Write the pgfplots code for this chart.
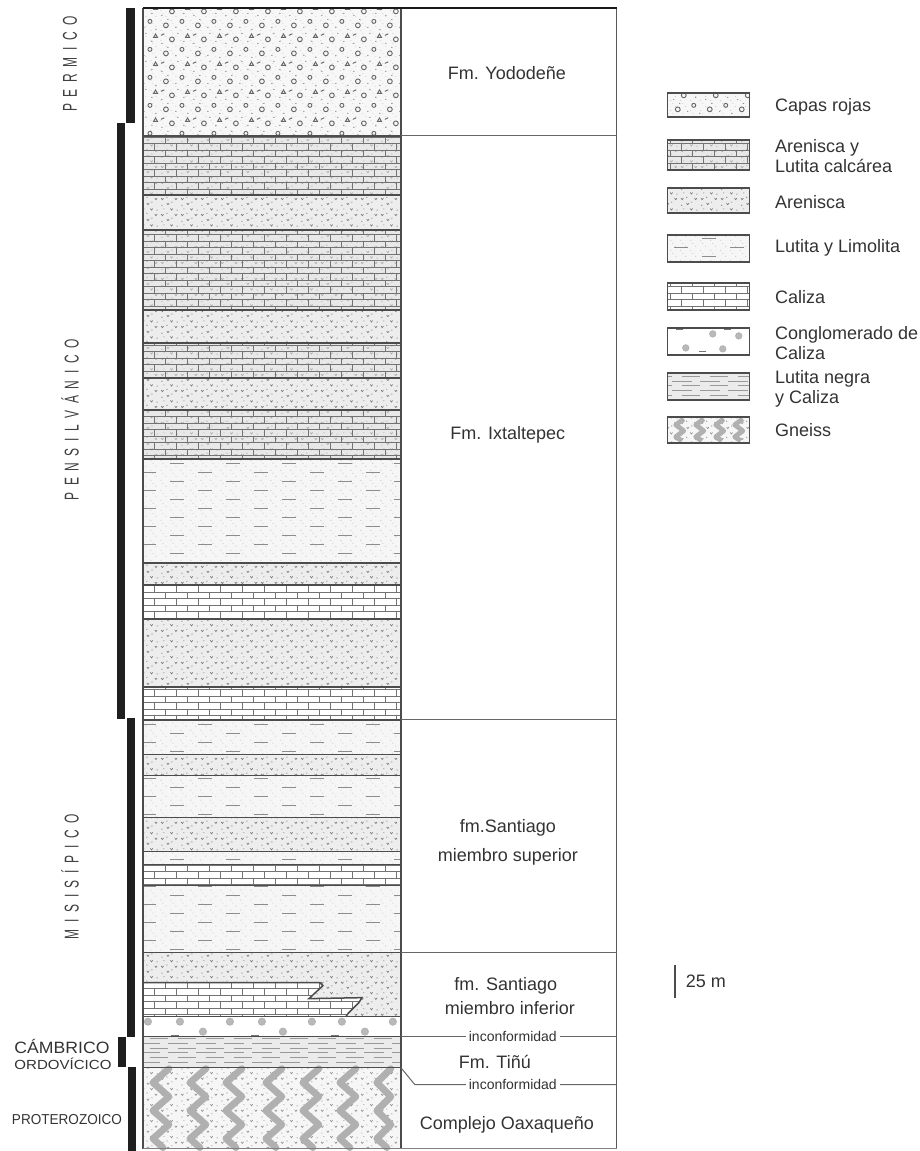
\documentclass[border=0pt]{standalone}
\usepackage{pgfplots}
\pgfplotsset{compat=1.18}
\usetikzlibrary{patterns}
\usepackage{graphicx}
\usepackage{fontspec}
\setmainfont{Liberation Sans}
\newfontfamily\agefont[FakeStretch=0.6]{Liberation Sans}
\newcommand{\gs}{\hspace{3.3pt}}

% ---------- patterns ----------
\pgfdeclarepatternformonly{bricksp}{\pgfqpoint{-0.5pt}{-0.5pt}}{\pgfqpoint{11.5pt}{7pt}}{\pgfqpoint{11pt}{6.5pt}}{
  \pgfsetlinewidth{0.35pt}
  \pgfpathmoveto{\pgfqpoint{0pt}{0pt}}\pgfpathlineto{\pgfqpoint{11pt}{0pt}}
  \pgfpathmoveto{\pgfqpoint{0pt}{3.25pt}}\pgfpathlineto{\pgfqpoint{11pt}{3.25pt}}
  \pgfpathmoveto{\pgfqpoint{0pt}{0pt}}\pgfpathlineto{\pgfqpoint{0pt}{3.25pt}}
  \pgfpathmoveto{\pgfqpoint{5.5pt}{3.25pt}}\pgfpathlineto{\pgfqpoint{5.5pt}{6.5pt}}
  \pgfusepath{stroke}}
\pgfdeclarepatternformonly{sandp}{\pgfqpoint{-0.5pt}{-0.5pt}}{\pgfqpoint{10.5pt}{8.5pt}}{\pgfqpoint{10pt}{8pt}}{
  \pgfpathcircle{\pgfqpoint{1pt}{1pt}}{0.3pt}
  \pgfpathcircle{\pgfqpoint{6pt}{2.6pt}}{0.3pt}
  \pgfpathcircle{\pgfqpoint{3.5pt}{5pt}}{0.3pt}
  \pgfpathcircle{\pgfqpoint{8.6pt}{6.6pt}}{0.3pt}
  \pgfpathcircle{\pgfqpoint{2pt}{7.2pt}}{0.25pt}
  \pgfusepath{fill}
  \pgfsetlinewidth{0.3pt}
  \pgfpathmoveto{\pgfqpoint{3.4pt}{2.1pt}}\pgfpathlineto{\pgfqpoint{4pt}{1.3pt}}\pgfpathlineto{\pgfqpoint{4.6pt}{2.1pt}}
  \pgfpathmoveto{\pgfqpoint{7.4pt}{4.6pt}}\pgfpathlineto{\pgfqpoint{8pt}{3.8pt}}\pgfpathlineto{\pgfqpoint{8.6pt}{4.6pt}}
  \pgfpathmoveto{\pgfqpoint{0.6pt}{4.6pt}}\pgfpathlineto{\pgfqpoint{1.2pt}{3.8pt}}\pgfpathlineto{\pgfqpoint{1.8pt}{4.6pt}}
  \pgfpathmoveto{\pgfqpoint{5.2pt}{7.4pt}}\pgfpathlineto{\pgfqpoint{5.8pt}{6.6pt}}\pgfpathlineto{\pgfqpoint{6.4pt}{7.4pt}}
  \pgfusepath{stroke}}
\pgfdeclarepatternformonly{pebbles}{\pgfqpoint{-0.5pt}{-0.5pt}}{\pgfqpoint{16.5pt}{14.5pt}}{\pgfqpoint{16pt}{14pt}}{
  \pgfpathcircle{\pgfqpoint{8pt}{2pt}}{0.3pt}
  \pgfpathcircle{\pgfqpoint{1pt}{8pt}}{0.3pt}
  \pgfpathcircle{\pgfqpoint{14pt}{1pt}}{0.3pt}
  \pgfpathcircle{\pgfqpoint{9pt}{13pt}}{0.3pt}
  \pgfpathcircle{\pgfqpoint{4pt}{6pt}}{0.3pt}
  \pgfpathcircle{\pgfqpoint{12pt}{9pt}}{0.3pt}
  \pgfusepath{fill}
  \pgfsetlinewidth{0.45pt}
  \pgfpathcircle{\pgfqpoint{3pt}{3pt}}{1.2pt}
  \pgfpathcircle{\pgfqpoint{11pt}{5pt}}{1.0pt}
  \pgfpathcircle{\pgfqpoint{6pt}{10pt}}{1.2pt}
  \pgfpathmoveto{\pgfqpoint{12.8pt}{11pt}}\pgfpathlineto{\pgfqpoint{14.8pt}{11pt}}\pgfpathlineto{\pgfqpoint{13.8pt}{12.7pt}}\pgfpathclose
  \pgfpathmoveto{\pgfqpoint{0.5pt}{12pt}}\pgfpathlineto{\pgfqpoint{2.2pt}{12.8pt}}
  \pgfusepath{stroke}}
\pgfdeclarepatternformonly{dashp}{\pgfqpoint{-0.5pt}{-0.5pt}}{\pgfqpoint{28.5pt}{9.5pt}}{\pgfqpoint{28pt}{9pt}}{
  \pgfsetlinewidth{0.4pt}
  \pgfpathmoveto{\pgfqpoint{1pt}{2pt}}\pgfpathlineto{\pgfqpoint{8pt}{2pt}}
  \pgfpathmoveto{\pgfqpoint{15pt}{6.5pt}}\pgfpathlineto{\pgfqpoint{22pt}{6.5pt}}
  \pgfusepath{stroke}}
\pgfdeclarepatternformonly{finedots}{\pgfqpoint{-0.5pt}{-0.5pt}}{\pgfqpoint{5.5pt}{5.5pt}}{\pgfqpoint{5pt}{5pt}}{
  \pgfpathcircle{\pgfqpoint{0.5pt}{0.5pt}}{0.22pt}
  \pgfpathcircle{\pgfqpoint{3pt}{2.5pt}}{0.22pt}
  \pgfpathcircle{\pgfqpoint{1.5pt}{4pt}}{0.2pt}
  \pgfusepath{fill}}
\pgfdeclarepatternformonly{hdash}{\pgfqpoint{-0.5pt}{-0.5pt}}{\pgfqpoint{14.5pt}{5.3pt}}{\pgfqpoint{14pt}{4.8pt}}{
  \pgfsetlinewidth{0.3pt}
  \pgfpathmoveto{\pgfqpoint{0pt}{1.2pt}}\pgfpathlineto{\pgfqpoint{10pt}{1.2pt}}
  \pgfpathmoveto{\pgfqpoint{5pt}{3.6pt}}\pgfpathlineto{\pgfqpoint{14pt}{3.6pt}}
  \pgfusepath{stroke}}

\tikzset{
  capas/.style={draw=none, fill=gray!6, postaction={pattern=finedots, pattern color=black!30}, postaction={pattern=pebbles, pattern color=black!60}},
  arlc/.style={draw=none, fill=gray!18, postaction={pattern=sandp, pattern color=black!35}, postaction={pattern=bricksp, pattern color=black!55}},
  aren/.style={draw=none, fill=gray!14, postaction={pattern=sandp, pattern color=black!55}},
  luli/.style={draw=none, fill=gray!7, postaction={pattern=finedots, pattern color=black!40}, postaction={pattern=dashp, pattern color=black!45}},
  cal/.style={draw=none, fill=white, postaction={pattern=bricksp, pattern color=black!55}},
  cong/.style={draw=none, fill=white},
  lneg/.style={draw=none, fill=gray!16, postaction={pattern=hdash, pattern color=black!40}},
  gnei/.style={draw=none, fill=gray!7, postaction={pattern=sandp, pattern color=black!45}},
  bnd/.style={draw=black!70, line width=0.75pt},
  box/.style={draw=black!60, line width=0.5pt},
  gband/.style={draw=gray!62, line width=3.4pt, line join=round, line cap=round},
  lbl/.style={text=black!80, font=\fontsize{9}{10.5}\selectfont, inner sep=1pt},
  leg/.style={text=black!80, font=\fontsize{9}{10}\selectfont, anchor=west, align=left, inner sep=0pt},
  age/.style={rotate=90, text=black!75, font=\agefont\fontsize{10}{12}\selectfont},
}
\newcommand{\lay}[3]{\addplot[#3] coordinates {(143,#1) (401,#1) (401,#2) (143,#2)} -- cycle;}
\newcommand{\hb}[1]{\addplot[bnd] coordinates {(143,#1) (401,#1)};}
\newcommand{\legbox}[3]{\addplot[#3] coordinates {(668,#1) (750,#1) (750,#2) (668,#2)} -- cycle;
  \addplot[draw=black!70, line width=0.7pt] coordinates {(668,#1) (750,#1) (750,#2) (668,#2)} -- cycle;}

\begin{document}
\begin{tikzpicture}
\begin{axis}[
  scale only axis, width=460pt, height=575.5pt,
  xmin=0, xmax=920, ymin=0, ymax=1151, y dir=reverse,
  hide axis, clip=false,
  every axis plot/.append style={mark=none},
]
\addplot[draw=none] coordinates {(0,0) (920,1151)};

% ---------- column layers ----------
\lay{8}{136}{capas}
\lay{136}{195}{arlc}
\lay{195}{230}{aren}
\lay{230}{310}{arlc}
\lay{310}{343}{aren}
\lay{343}{378}{arlc}
\lay{378}{410}{aren}
\lay{410}{459}{arlc}
\lay{459}{563}{luli}
\lay{563}{585}{aren}
\lay{585}{619}{cal}
\lay{619}{687}{aren}
\lay{687}{720}{cal}
\lay{720}{755}{luli}
\lay{755}{776}{aren}
\lay{776}{818}{luli}
\lay{818}{852}{aren}
\lay{852}{865}{luli}
\lay{865}{886}{cal}
\lay{886}{953}{luli}
\lay{953}{1017}{aren}
\addplot[cal] coordinates {(143,983) (320,983) (323,986) (309,999) (362,998) (359,1003) (348,1014) (346,1017) (143,1017)} -- cycle;
\lay{1017}{1037}{cong}
\lay{1037}{1068}{lneg}
\lay{1068}{1149}{gnei}

% conglomerate clasts
\addplot[only marks, mark=*, mark size=1.8pt, draw=gray!60, fill=gray!55] coordinates {
  (148,1022) (180,1022) (230,1022) (262,1022) (312,1022) (342,1022) (393,1022)
  (203,1032) (283,1032) (365,1032)};
\addplot[only marks, mark=-, mark size=2pt, draw=black!55, line width=0.6pt] coordinates {
  (175,1036) (255,1036) (335,1036)};

% gneiss bands
\addplot[gband] coordinates {(169,1069) (153,1083) (169,1097) (153,1111) (169,1125) (153,1139) (163,1148)};
\addplot[gband] coordinates {(206,1069) (190,1083) (206,1097) (190,1111) (206,1125) (190,1139) (200,1148)};
\addplot[gband] coordinates {(242,1069) (226,1083) (242,1097) (226,1111) (242,1125) (226,1139) (236,1148)};
\addplot[gband] coordinates {(282,1069) (266,1083) (282,1097) (266,1111) (282,1125) (266,1139) (276,1148)};
\addplot[gband] coordinates {(319,1069) (303,1083) (319,1097) (303,1111) (319,1125) (303,1139) (313,1148)};
\addplot[gband] coordinates {(356,1069) (340,1083) (356,1097) (340,1111) (356,1125) (340,1139) (350,1148)};
\addplot[gband] coordinates {(391,1069) (377,1083) (391,1097) (377,1111) (391,1125) (377,1139) (387,1148)};

% layer boundaries
\hb{136}\hb{195}\hb{230}\hb{310}\hb{343}\hb{378}\hb{410}\hb{459}\hb{563}\hb{585}
\hb{619}\hb{687}\hb{720}\hb{755}\hb{776}\hb{818}\hb{852}\hb{865}\hb{886}\hb{953}
\hb{1017}\hb{1037}\hb{1068}
\addplot[bnd] coordinates {(143,983) (320,983) (323,986) (309,999) (362,998) (359,1003) (348,1014) (346,1017)};

% column frame and right box
\addplot[draw=black!70, line width=0.7pt] coordinates {(143,8) (143,1149)};
\addplot[draw=black!70, line width=0.7pt] coordinates {(401,8) (401,1149)};
\addplot[draw=black!65, line width=0.6pt] coordinates {(617,8) (617,1149)};
\addplot[draw=black!90, line width=1.1pt] coordinates {(143,8) (617,8)};
\addplot[draw=black!50, line width=0.4pt] coordinates {(143,1149) (617,1149)};
\addplot[box] coordinates {(401,136) (617,136)};
\addplot[box] coordinates {(401,720) (617,720)};
\addplot[box] coordinates {(401,953) (617,953)};
\addplot[box] coordinates {(401,1037) (617,1037)};
\addplot[box] coordinates {(401,1068) (415,1085) (617,1085)};

% age bars
\addplot[fill=black!88, draw=none] coordinates {(126,8) (135,8) (135,123) (126,123)} -- cycle;
\addplot[fill=black!88, draw=none] coordinates {(117,123) (125,123) (125,719) (117,719)} -- cycle;
\addplot[fill=black!88, draw=none] coordinates {(127,718) (135,718) (135,1037) (127,1037)} -- cycle;
\addplot[fill=black!88, draw=none] coordinates {(118,1037) (126,1037) (126,1067) (118,1067)} -- cycle;
\addplot[fill=black!88, draw=none] coordinates {(128,1067) (136,1067) (136,1151) (128,1151)} -- cycle;

% scale bar
\addplot[draw=black!70, line width=0.8pt] coordinates {(675,965) (675,998)};

% ---------- legend boxes ----------
\legbox{93}{117}{capas}
\legbox{140}{170}{arlc}
\legbox{188}{213}{aren}
\legbox{235}{262}{luli}
\legbox{283}{310}{cal}
\legbox{328}{355}{cong}
\addplot[only marks, mark=*, mark size=1.6pt, draw=gray!60, fill=gray!55] coordinates {(713,334) (739,336) (686,348) (723,349)};
\addplot[only marks, mark=-, mark size=1.8pt, draw=black!55, line width=0.5pt] coordinates {(680,330) (728,330) (703,352)};
\legbox{373}{400}{lneg}
\addplot[gnei] coordinates {(668,417) (750,417) (750,443) (668,443)} -- cycle;
\addplot[draw=gray!62, line width=2.4pt, line join=round] coordinates {(684,419) (676,425) (684,431) (676,437) (682,441)};
\addplot[draw=gray!62, line width=2.4pt, line join=round] coordinates {(704,419) (696,425) (704,431) (696,437) (702,441)};
\addplot[draw=gray!62, line width=2.4pt, line join=round] coordinates {(724,419) (716,425) (724,431) (716,437) (722,441)};
\addplot[draw=gray!62, line width=2.4pt, line join=round] coordinates {(743,419) (735,425) (743,431) (735,437) (741,441)};
\addplot[draw=black!70, line width=0.7pt] coordinates {(668,417) (750,417) (750,443) (668,443)} -- cycle;

% ---------- texts ----------
\node[lbl] at (axis cs:507,73) {Fm. Yododeñe};
\node[lbl] at (axis cs:508,435) {Fm. Ixtaltepec};
\node[lbl] at (axis cs:508,828) {fm.Santiago};
\node[lbl] at (axis cs:508,857) {miembro superior};
\node[lbl] at (axis cs:506,986) {fm. Santiago};
\node[lbl] at (axis cs:510,1008) {miembro inferior};
\node[lbl, fill=white, font=\fontsize{7}{8}\selectfont, inner sep=1.5pt] at (axis cs:513,1037) {inconformidad};
\node[lbl] at (axis cs:495,1062) {Fm. Tiñú};
\node[lbl, fill=white, font=\fontsize{7}{8}\selectfont, inner sep=1.5pt] at (axis cs:513,1085) {inconformidad};
\node[lbl] at (axis cs:507,1125) {Complejo Oaxaqueño};
\node[lbl] at (axis cs:706,982) {25 m};

\node[leg] at (axis cs:775,107) {Capas rojas};
\node[leg] at (axis cs:775,156) {Arenisca y\\Lutita calcárea};
\node[leg] at (axis cs:775,202) {Arenisca};
\node[leg] at (axis cs:775,248) {Lutita y Limolita};
\node[leg] at (axis cs:775,297) {Caliza};
\node[leg] at (axis cs:775,343) {Conglomerado de\\Caliza};
\node[leg] at (axis cs:775,389) {Lutita negra\\y Caliza};
\node[leg] at (axis cs:775,430) {Gneiss};

% period labels
\node[age] at (axis cs:70,64) {P\gs E\gs R\gs M\gs I\gs C\gs O};
\node[age] at (axis cs:70,420) {P\gs E\gs N\gs S\gs I\gs L\gs V\gs Á\gs N\gs I\gs C\gs O};
\node[age] at (axis cs:70,877) {M\gs I\gs S\gs I\gs S\gs Í\gs P\gs I\gs C\gs O};
\node[text=black!80, inner sep=0pt] at (axis cs:62,1047) {\resizebox{47.5pt}{\height}{\fontsize{8.2}{9}\selectfont CÁMBRICO}};
\node[text=black!80, inner sep=0pt] at (axis cs:63,1064) {\resizebox{48.5pt}{\height}{\fontsize{6.6}{8}\selectfont ORDOVÍCICO}};
\node[text=black!80, inner sep=0pt] at (axis cs:67,1120) {\resizebox{55pt}{\height}{\fontsize{7.2}{8}\selectfont PROTEROZOICO}};
\end{axis}
\end{tikzpicture}
\end{document}
